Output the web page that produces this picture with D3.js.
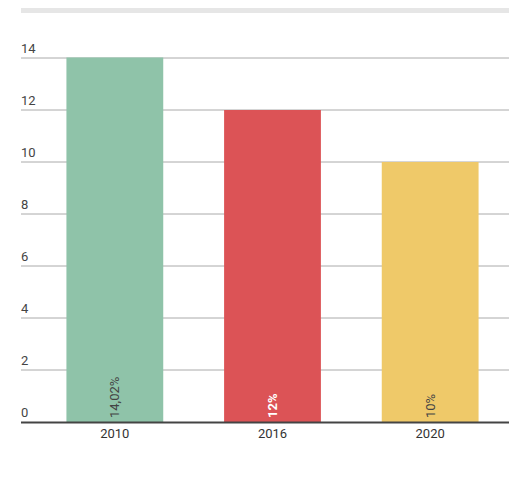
<!DOCTYPE html>
<html>
<head>
<meta charset="utf-8">
<script src="https://cdn.jsdelivr.net/npm/d3@7"></script>
<style>
  body { margin: 0; background: #fff; font-family: Roboto, sans-serif; }
</style>
</head>
<body>
<div id="chart"></div>
<script>
const years = ["2010", "2016", "2020"];
const values = [14.02, 12, 10];
const labels = ["14,02%", "12%", "10%"];
const colors = ["#8fc3a9", "#dc5356", "#efc969"];
const labelColors = ["#444", "#fff", "#444"];
const yTicks = [0, 2, 4, 6, 8, 10, 12, 14];

const width = 525, height = 492;
const plotLeft = 21, plotRight = 509, plotTop = 58, plotBottom = 422;

const svg = d3.select("#chart")
  .append("svg")
  .attr("width", width)
  .attr("height", height);

// grey strip at the top
svg.append("rect")
  .attr("x", plotLeft).attr("y", 8)
  .attr("width", plotRight - plotLeft).attr("height", 5)
  .attr("fill", "#e6e6e6");

const y = d3.scaleLinear().domain([0, 14]).range([plotBottom, plotTop]);
const x = d3.scaleBand()
  .domain(years)
  .range([36, 509])
  .paddingInner(0.386)
  .paddingOuter(0.193);

// gridlines + tick labels
const grid = svg.append("g");
yTicks.filter(d => d > 0).forEach(t => {
  grid.append("line")
    .attr("x1", plotLeft).attr("x2", plotRight)
    .attr("y1", y(t)).attr("y2", y(t))
    .attr("stroke", "#aaa").attr("stroke-width", 1);
});
yTicks.forEach(t => {
  grid.append("text")
    .attr("x", plotLeft)
    .attr("y", y(t) - 5)
    .attr("font-size", 13)
    .attr("fill", "#444")
    .text(t);
});

// bars
svg.selectAll(".bar")
  .data(years)
  .enter()
  .append("rect")
  .attr("class", "bar")
  .attr("x", d => x(d))
  .attr("y", (d, i) => y(values[i]))
  .attr("width", x.bandwidth())
  .attr("height", (d, i) => y(0) - y(values[i]))
  .attr("fill", (d, i) => colors[i]);

// value labels, rotated
svg.selectAll(".val")
  .data(years)
  .enter()
  .append("text")
  .attr("class", "val")
  .attr("transform", d => "translate(" + (x(d) + x.bandwidth() / 2 + 4.5) + "," + (plotBottom - 4) + ") rotate(-90)")
  .attr("font-size", 13)
  .attr("font-weight", (d, i) => i == 1 ? "bold" : "normal")
  .attr("fill", (d, i) => labelColors[i])
  .text((d, i) => labels[i]);

// baseline
svg.append("line")
  .attr("x1", plotLeft).attr("x2", plotRight)
  .attr("y1", plotBottom + 0.5).attr("y2", plotBottom + 0.5)
  .attr("stroke", "#444").attr("stroke-width", 2);

// x axis labels
svg.selectAll(".yr")
  .data(years)
  .enter()
  .append("text")
  .attr("class", "yr")
  .attr("x", d => x(d) + x.bandwidth() / 2)
  .attr("y", 438)
  .attr("text-anchor", "middle")
  .attr("font-size", 13)
  .attr("fill", "#333")
  .text(d => d);
</script>
</body>
</html>
